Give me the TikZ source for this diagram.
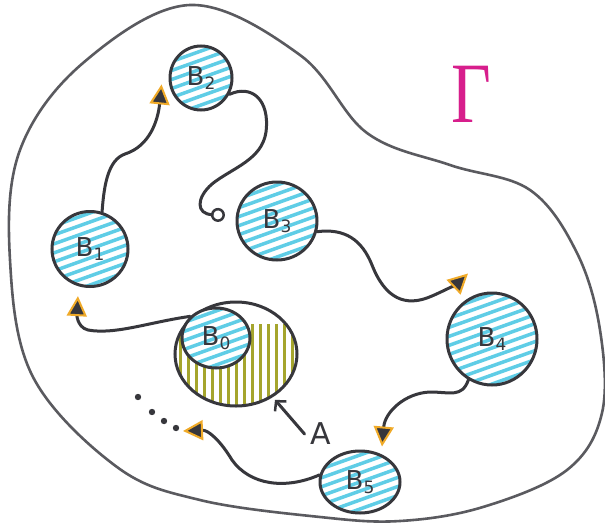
\documentclass[tikz,border=0pt]{standalone}
\usepackage{fontspec}
\setsansfont{DejaVu Sans}
\newfontfamily\gfont{Liberation Serif}
\usetikzlibrary{shapes.geometric,arrows.meta}
\definecolor{ink}{RGB}{55,55,60}
\definecolor{bound}{RGB}{90,90,95}
\definecolor{hatchcyan}{RGB}{95,205,230}
\definecolor{hatcholive}{RGB}{165,165,45}
\definecolor{tiporange}{RGB}{240,170,40}
\definecolor{gammapink}{RGB}{215,30,140}
\newcommand\Bsub[1]{B{\fontsize{17}{17}\selectfont\raisebox{-4pt}{#1}}}
\tikzset{
  blob/.style={ellipse, draw=ink, line width=3pt, fill=white, inner sep=0pt,
    font=\fontsize{26}{26}\sffamily, text=ink},
  cyanhatch/.style={path picture={\foreach \k in {-12,...,12}{\draw[hatchcyan, line width=3.5pt, line cap=round]
      ([shift={(-70pt,\k*9pt-25pt)}]path picture bounding box.center) -- ++(140pt,50pt);}}},
  olivehatch/.style={path picture={\foreach \k in {-8,...,8}{\draw[hatcholive, line width=3pt]
      ([shift={(\k*8pt,30pt)}]path picture bounding box.center) -- ++(0pt,-100pt);}}},
  conn/.style={draw=ink, line width=3pt, line cap=round},
  tri/.style={-{Triangle[length=20pt,width=20pt,color=tiporange,fill=ink,line width=2pt]}},
  ring/.style={-{Circle[open,length=14pt,width=14pt,line width=2.5pt]}},
  boundary/.style={draw=bound, line width=2.6pt}
}
\begin{document}
\begin{tikzpicture}[x=1pt,y=-1pt]
\useasboundingbox (0,0) rectangle (605,525);
\fill[white] (0,0) rectangle (605,525);
% outer region
\draw[boundary] plot[smooth cycle, tension=0.6] coordinates {
  (190,5) (300,55) (367,133) (450,165) (530,190) (577,253) (600,330) (602,413)
  (567,470) (483,507) (400,521) (320,517) (200,500) (117,467) (33,377) (10,260)
  (20,150) (83,63)};
% Gamma label
\node[text=gammapink, inner sep=0pt, xscale=0.8, font=\gfont\fontsize{86}{86}\selectfont] (gamma) at (471,94) {Γ};
% sets
\node[blob, olivehatch, minimum width=122pt, minimum height=104pt] (b0o) at (236,354) {};
\node[blob, cyanhatch, minimum width=68pt, minimum height=60pt] (b0) at (216,338) {\Bsub{0}};
\node[blob, cyanhatch, minimum width=76pt, minimum height=75pt] (b1) at (90,249) {\Bsub{1}};
\node[blob, cyanhatch, minimum width=62pt, minimum height=64pt] (b2) at (201,78) {\Bsub{2}};
\node[blob, cyanhatch, minimum width=80pt, minimum height=78pt] (b3) at (277,221) {\Bsub{3}};
\node[blob, cyanhatch, minimum width=90pt, minimum height=92pt] (b4) at (492,339) {\Bsub{4}};
\node[blob, cyanhatch, minimum width=80pt, minimum height=62pt] (b5) at (360,482) {\Bsub{5}};
% label A
\node[inner sep=0pt, text=ink, font=\fontsize{30}{30}\sffamily] (A) at (321,434) {A};
\draw[conn, -{Straight Barb[length=7pt,width=15pt,line width=2.5pt]}] ([xshift=-6pt]A.west) -- ([shift={(0pt,-4pt)}]b0o.-47);
% dots
\coordinate (c5) at (183,431);
\fill[ink] (138,397) circle (3.2pt);
\fill[ink] (152,412) circle (3.2pt);
\fill[ink] (164,421) circle (3.2pt);
\fill[ink] (176,428) circle (3.2pt);
% connectors
\draw[conn, tri] (b0.140) .. controls (150,322) and (115,335) .. (88,330)
  .. controls (76,327) and (77,312) .. ([yshift=-10pt]b1.252);
\draw[conn, tri] (b1.72) .. controls (104,185) and (108,160) .. (125,154)
  .. controls (150,146) and (158,120) .. ([shift={(-8pt,2pt)}]b2.195);
\draw[conn, ring] (b2.-30) .. controls (252,84) and (270,100) .. (266,132)
  .. controls (262,160) and (232,168) .. (212,184)
  .. controls (196,198) and (196,214) .. ([xshift=-11pt]b3.172);
\draw[conn, tri] (b3.-15) .. controls (345,228) and (362,240) .. (372,265)
  .. controls (385,298) and (405,308) .. (432,296)
  .. controls (448,289) and (458,283) .. ([shift={(-24pt,18pt)}]b4.north);
\draw[conn, tri] (b4.240) .. controls (462,398) and (450,392) .. (430,392)
  .. controls (405,393) and (385,412) .. ([shift={(22pt,3pt)}]b5.north);
\draw[conn, tri] (b5.170) .. controls (285,490) and (250,485) .. (232,460)
  .. controls (220,440) and (208,430) .. (c5);
\end{tikzpicture}
\end{document}
